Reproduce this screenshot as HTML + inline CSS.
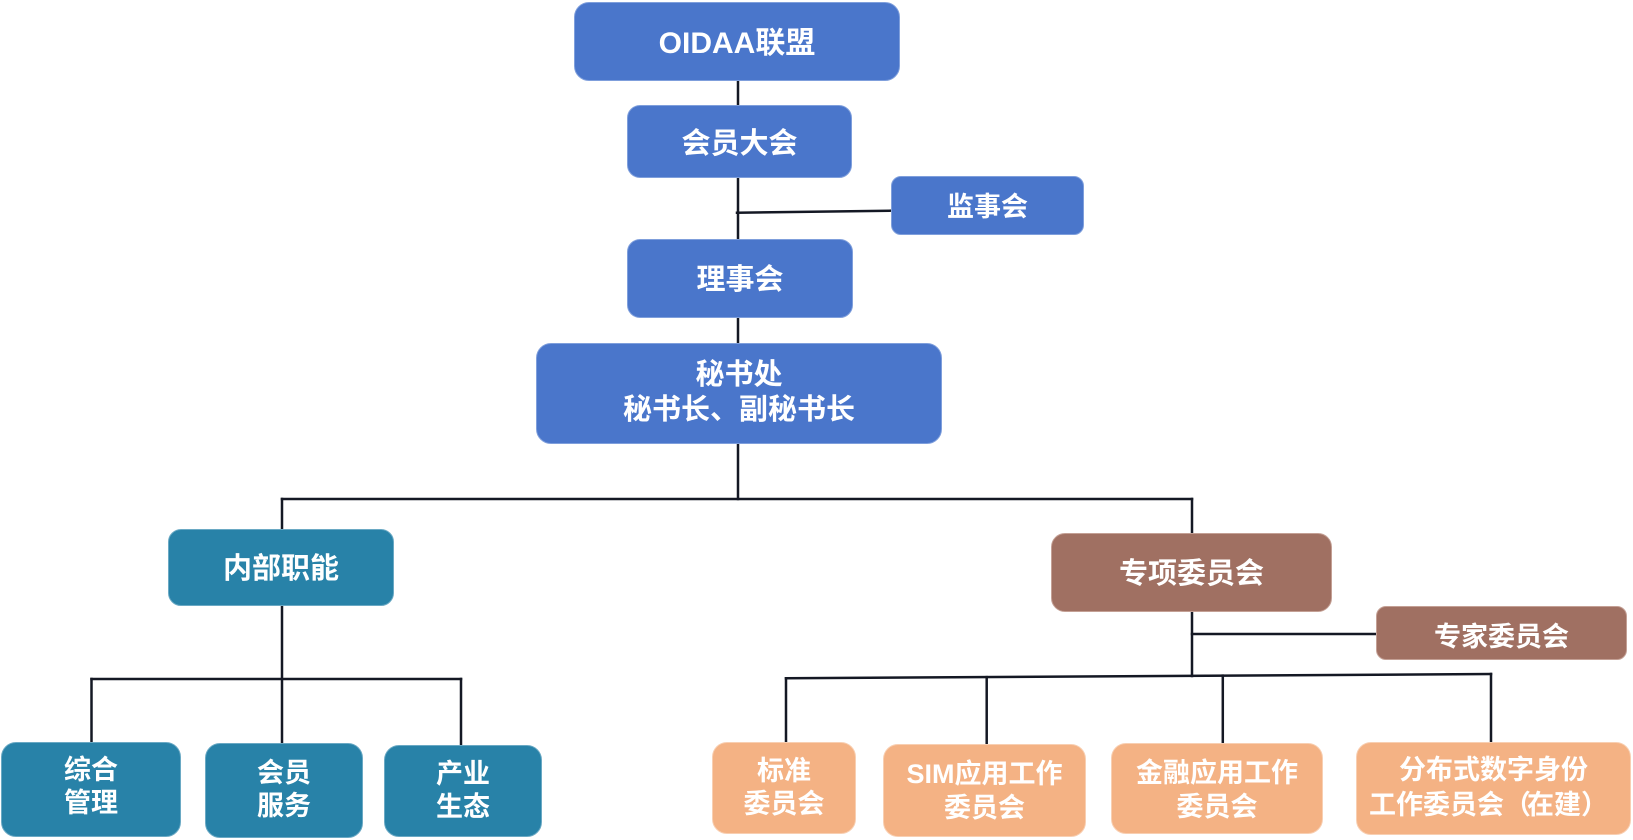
<!DOCTYPE html>
<html>
<head>
<meta charset="utf-8">
<style>
html,body{margin:0;padding:0;background:#fff;}
body{width:1633px;height:840px;position:relative;overflow:hidden;
  font-family:"Liberation Sans","Noto Sans CJK SC","WenQuanYi Zen Hei",sans-serif;font-weight:bold;}
svg{position:absolute;left:0;top:0;}
.b{position:absolute;box-sizing:border-box;display:flex;align-items:center;justify-content:center;
  text-align:center;color:#fff;white-space:nowrap;}
.blue{background:#4a76cb;border:1px solid #7f9fdc;}
.teal{background:#2882a8;border:1px solid #6aa9c4;}
.brown{background:#a07062;border:1px solid #c4a095;}
.orange{background:#f4b284;border:1px solid #f8cfb2;}
.p{letter-spacing:-4px;}
</style>
</head>
<body>
<svg width="1633" height="840" viewBox="0 0 1633 840">
  <g stroke="#141824" stroke-width="2.5" fill="none" stroke-linecap="square">
    <line x1="738" y1="80" x2="738" y2="499"/>
    <line x1="737" y1="212.7" x2="891" y2="210.7"/>
    <line x1="282" y1="499" x2="1192" y2="499"/>
    <line x1="282" y1="499" x2="282" y2="743"/>
    <line x1="1192" y1="499" x2="1192" y2="676"/>
    <line x1="1192" y1="634" x2="1376" y2="634"/>
    <line x1="91.5" y1="679" x2="461" y2="679"/>
    <line x1="91.5" y1="679" x2="91.5" y2="742"/>
    <line x1="461" y1="679" x2="461" y2="744"/>
    <line x1="786" y1="678.3" x2="1491" y2="674"/>
    <line x1="786" y1="678.3" x2="786" y2="742"/>
    <line x1="986.7" y1="677.1" x2="986.7" y2="744"/>
    <line x1="1222.8" y1="675.6" x2="1222.8" y2="743"/>
    <line x1="1491" y1="674" x2="1491" y2="742"/>
  </g>
</svg>

<div class="b blue" style="left:574px;top:2px;width:326px;height:79px;border-radius:15px;font-size:30px;padding-bottom:4px;">OIDAA联盟</div>
<div class="b blue" style="left:627px;top:105px;width:225px;height:73px;border-radius:13px;font-size:29px;padding-bottom:2px;">会员大会</div>
<div class="b blue" style="left:891px;top:176px;width:193px;height:59px;border-radius:10px;font-size:27px;padding-bottom:3px;">监事会</div>
<div class="b blue" style="left:627px;top:239px;width:226px;height:79px;border-radius:13px;font-size:29px;padding-bottom:3px;">理事会</div>
<div class="b blue" style="left:536px;top:343px;width:406px;height:101px;border-radius:15px;font-size:29px;line-height:35px;padding-bottom:2px;">秘书处<br>秘书长、副秘书长</div>

<div class="b teal" style="left:168px;top:529px;width:226px;height:77px;border-radius:13px;font-size:29px;padding-bottom:4px;">内部职能</div>
<div class="b brown" style="left:1051px;top:533px;width:281px;height:79px;border-radius:14px;font-size:29px;padding-bottom:4px;">专项委员会</div>
<div class="b brown" style="left:1376px;top:606px;width:251px;height:54px;border-radius:10px;font-size:27px;padding-top:3px;">专家委员会</div>

<div class="b teal" style="left:1px;top:742px;width:180px;height:95px;border-radius:15px;font-size:27px;line-height:33px;padding-bottom:5px;">综合<br>管理</div>
<div class="b teal" style="left:205px;top:743px;width:158px;height:95px;border-radius:15px;font-size:27px;line-height:33px;padding-bottom:2px;">会员<br>服务</div>
<div class="b teal" style="left:384px;top:745px;width:158px;height:92px;border-radius:15px;font-size:27px;line-height:33px;">产业<br>生态</div>

<div class="b orange" style="left:712px;top:742px;width:144px;height:92px;border-radius:15px;font-size:27px;line-height:33px;">标准<br>委员会</div>
<div class="b orange" style="left:883px;top:744px;width:203px;height:93px;border-radius:15px;font-size:27px;line-height:34px;">SIM应用工作<br>委员会</div>
<div class="b orange" style="left:1111px;top:743px;width:212px;height:91px;border-radius:15px;font-size:27px;line-height:34px;padding-top:2px;">金融应用工作<br>委员会</div>
<div class="b orange" style="left:1356px;top:742px;width:275px;height:93px;border-radius:15px;font-size:27px;line-height:35px;padding-bottom:1px;"><span>分布式数字身份<br><span style="margin-left:-14px;">工作委员会<span class="p">（</span>在建<span class="p">）</span></span></span></div>
</body>
</html>
